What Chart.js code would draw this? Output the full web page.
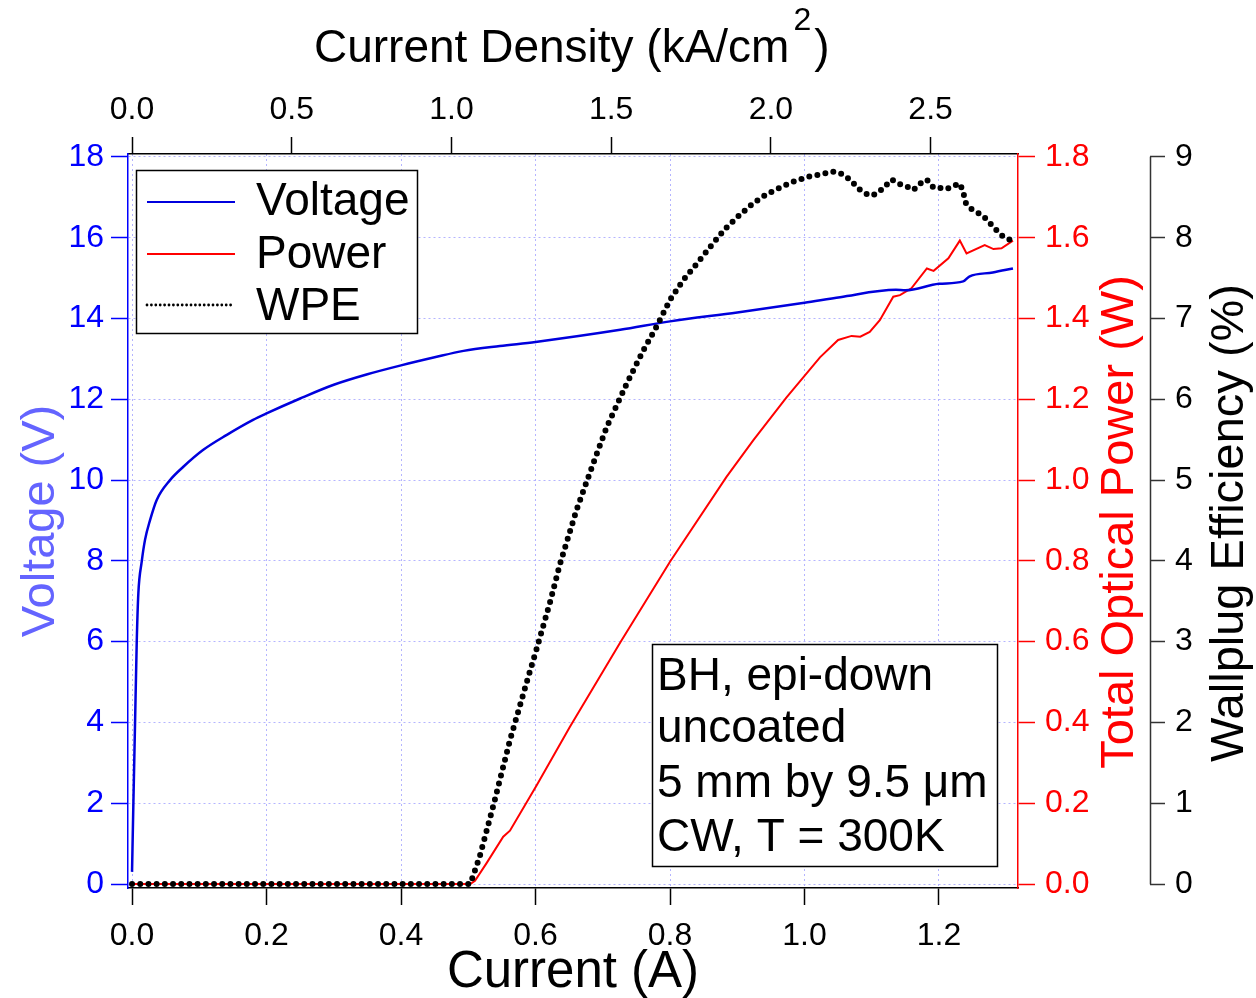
<!DOCTYPE html>
<html>
<head>
<meta charset="utf-8">
<script src="https://cdn.jsdelivr.net/npm/chart.js@4.4.1/dist/chart.umd.min.js"></script>
<style>
  html, body { margin: 0; padding: 0; background: #fff; }
  canvas { display: block; }
</style>
</head>
<body>
<canvas id="liv" width="1256" height="998"></canvas>
<script>
// valores (corrente em A)
const currentV = [0, 0.002, 0.0045, 0.007, 0.0094, 0.0144, 0.0193, 0.0268, 0.0367, 0.0565, 0.0763, 0.106, 0.141, 0.18, 0.2, 0.25, 0.3, 0.35, 0.4, 0.45, 0.493, 0.547, 0.6, 0.726, 0.8, 0.9, 1.0, 1.053, 1.136, 1.15, 1.2, 1.236, 1.245, 1.28, 1.31];
const voltage  = [0.3, 2.0, 4.0, 6.0, 7.2, 7.98, 8.52, 9.01, 9.51, 10.0, 10.33, 10.75, 11.12, 11.49, 11.65, 12.02, 12.36, 12.62, 12.84, 13.04, 13.2, 13.32, 13.42, 13.72, 13.93, 14.15, 14.39, 14.53, 14.71, 14.7, 14.86, 14.92, 15.04, 15.14, 15.24];

const currentP = [0, 0.503, 0.51, 0.527, 0.552, 0.562, 0.602, 0.651, 0.726, 0.8, 0.884, 0.924, 0.973, 1.023, 1.05, 1.07, 1.083, 1.097, 1.112, 1.132, 1.142, 1.159, 1.182, 1.192, 1.214, 1.231, 1.241, 1.268, 1.281, 1.293, 1.31];
const power    = [0, 0, 0.008, 0.051, 0.117, 0.132, 0.245, 0.389, 0.598, 0.798, 1.008, 1.099, 1.204, 1.304, 1.347, 1.357, 1.355, 1.367, 1.396, 1.454, 1.458, 1.475, 1.524, 1.518, 1.549, 1.593, 1.561, 1.582, 1.572, 1.574, 1.593];

const currentW = [0, 0.503, 0.517, 0.537, 0.562, 0.587, 0.602, 0.622, 0.636, 0.661, 0.686, 0.706, 0.736, 0.76, 0.78, 0.8, 0.82, 0.84, 0.864, 0.882, 0.902, 0.924, 0.944, 0.966, 0.988, 1.008, 1.028, 1.04, 1.05, 1.06, 1.07, 1.08, 1.09, 1.1, 1.11, 1.12, 1.13, 1.14, 1.151, 1.162, 1.172, 1.182, 1.192, 1.2, 1.211, 1.221, 1.231, 1.235, 1.238, 1.24, 1.249, 1.258, 1.268, 1.277, 1.286, 1.296, 1.307, 1.313];
const wpe      = [0, 0, 0.34, 0.96, 1.78, 2.5, 2.92, 3.5, 3.95, 4.63, 5.21, 5.66, 6.2, 6.6, 6.9, 7.23, 7.48, 7.68, 7.93, 8.11, 8.27, 8.43, 8.54, 8.63, 8.71, 8.76, 8.79, 8.82, 8.81, 8.77, 8.7, 8.61, 8.55, 8.52, 8.56, 8.64, 8.72, 8.67, 8.64, 8.59, 8.67, 8.72, 8.62, 8.62, 8.6, 8.64, 8.67, 8.59, 8.5, 8.43, 8.35, 8.31, 8.25, 8.17, 8.09, 8.01, 7.97, 7.97];

const currentTicks = [0, 0.2, 0.4, 0.6, 0.8, 1.0, 1.2];
const densityTicks = [0, 0.5, 1.0, 1.5, 2.0, 2.5];
const voltTicks    = [0, 2, 4, 6, 8, 10, 12, 14, 16, 18];
const powerTicks   = [0, 0.2, 0.4, 0.6, 0.8, 1.0, 1.2, 1.4, 1.6, 1.8];
const wpeTicks     = [0, 1, 2, 3, 4, 5, 6, 7, 8, 9];

const legendLabels = ['Voltage', 'Power', 'WPE'];
const infoLines = ['BH, epi-down', 'uncoated', '5 mm by 9.5 \u03bcm', 'CW, T = 300K'];

// 5 mm x 9.5 um -> kA/cm2 por A
const J_PER_A = 1 / (0.5 * 9.5e-4) / 1000;
const X_MIN = -0.006, X_MAX = 1.3175;

const FONT = "'Liberation Sans', Arial, sans-serif";
const BLUE = '#0000dd';
const GRID = '#b4b4ff';

Chart.defaults.font.family = FONT;

const pts = (xs, ys) => xs.map((x, i) => ({ x, y: ys[i] }));
const fixTicks = arr => s => { s.ticks = arr.map(v => ({ value: v })); };

const decor = {
  id: 'decor',
  afterDatasetsDraw(chart) {
    const ctx = chart.ctx;
    ctx.save();
    // legenda
    ctx.fillStyle = '#fff';
    ctx.fillRect(136, 170, 281, 163);
    ctx.strokeStyle = '#000';
    ctx.lineWidth = 1.5;
    ctx.strokeRect(136.5, 170.5, 281, 163);
    const ly = [202, 254, 305];
    const lc = [BLUE, '#ff0000', '#000'];
    ly.forEach((y, i) => {
      ctx.beginPath();
      ctx.strokeStyle = lc[i];
      if (i === 2) { ctx.lineWidth = 2.8; ctx.lineCap = 'round'; ctx.setLineDash([0, 4.4]); }
      else { ctx.lineWidth = 1.8; ctx.lineCap = 'butt'; ctx.setLineDash([]); }
      ctx.moveTo(147, y); ctx.lineTo(235, y); ctx.stroke();
    });
    ctx.setLineDash([]);
    ctx.fillStyle = '#000';
    ctx.font = '46px ' + FONT;
    ctx.textAlign = 'left';
    ctx.textBaseline = 'alphabetic';
    [215, 268, 320].forEach((b, i) => ctx.fillText(legendLabels[i], 256, b));

    // caixa de informações
    ctx.fillStyle = '#fff';
    ctx.fillRect(652, 644, 345, 222);
    ctx.strokeStyle = '#000';
    ctx.lineWidth = 1.5;
    ctx.strokeRect(652.5, 644.5, 345, 222);
    ctx.fillStyle = '#000';
    ctx.font = '46px ' + FONT;
    [690, 742, 797, 851].forEach((b, i) => ctx.fillText(infoLines[i], 657, b));

    // eixo WPE (0 a 9)
    const yW = chart.scales.yW;
    ctx.strokeStyle = '#333';
    ctx.lineWidth = 1.5;
    ctx.beginPath();
    ctx.moveTo(yW.left + 0.5, yW.getPixelForValue(0));
    ctx.lineTo(yW.left + 0.5, yW.getPixelForValue(9));
    ctx.stroke();
    ctx.restore();
  },
  afterDraw(chart) {
    const ctx = chart.ctx;
    ctx.save();
    ctx.textBaseline = 'alphabetic';
    // título inferior
    ctx.fillStyle = '#000';
    ctx.font = '51px ' + FONT;
    ctx.textAlign = 'center';
    ctx.fillText('Current (A)', 573, 987);
    // título superior com expoente
    ctx.textAlign = 'left';
    ctx.font = '46px ' + FONT;
    const main = 'Current Density (kA/cm';
    ctx.fillText(main, 314, 62);
    let x = 314 + ctx.measureText(main).width + 4;
    ctx.font = '32px ' + FONT;
    ctx.fillText('2', x, 30);
    x += ctx.measureText('2').width + 3;
    ctx.font = '46px ' + FONT;
    ctx.fillText(')', x, 62);
    // títulos verticais
    const vtitle = (text, bx, cy, color) => {
      ctx.save();
      ctx.translate(bx, cy);
      ctx.rotate(-Math.PI / 2);
      ctx.textAlign = 'center';
      ctx.fillStyle = color;
      ctx.font = '47px ' + FONT;
      ctx.fillText(text, 0, 0);
      ctx.restore();
    };
    vtitle('Voltage (V)', 54, 521, '#6464ff');
    vtitle('Total Optical Power (W)', 1133, 522, '#ff0000');
    vtitle('Wallplug Efficiency (%)', 1243, 523, '#000');
    ctx.restore();
  }
};

new Chart(document.getElementById('liv'), {
  type: 'line',
  data: {
    datasets: [
      { label: 'WPE', data: pts(currentW, wpe), yAxisID: 'yW', borderColor: '#000', borderWidth: 6,
        borderDash: [0, 8.2], borderCapStyle: 'round', pointRadius: 0, order: 1 },
      { label: 'Voltage', data: pts(currentV, voltage), yAxisID: 'yV', borderColor: BLUE, borderWidth: 2.5,
        cubicInterpolationMode: 'monotone', pointRadius: 0, order: 2 },
      { label: 'Power', data: pts(currentP, power), yAxisID: 'yP', borderColor: '#ff0000', borderWidth: 2,
        pointRadius: 0, order: 3 }
    ]
  },
  options: {
    responsive: false,
    animation: false,
    events: [],
    layout: { padding: 0 },
    plugins: { legend: { display: false }, tooltip: { enabled: false } },
    elements: { line: { tension: 0 } },
    scales: {
      x: {
        type: 'linear', position: 'bottom', min: X_MIN, max: X_MAX,
        afterFit: s => { s.height = 110; },
        afterBuildTicks: fixTicks(currentTicks),
        ticks: { color: '#000', font: { size: 32 }, padding: 12, maxRotation: 0, autoSkip: false,
          callback: v => v.toFixed(1) },
        grid: { color: GRID, lineWidth: 1, tickColor: '#000', tickLength: 17, tickWidth: 1.5 },
        border: { color: '#000', width: 1.5, dash: [2, 3] }
      },
      x2: {
        type: 'linear', position: 'top', min: X_MIN * J_PER_A, max: X_MAX * J_PER_A,
        afterFit: s => { s.height = 154; },
        afterBuildTicks: fixTicks(densityTicks),
        ticks: { color: '#000', font: { size: 32 }, padding: 8, maxRotation: 0, autoSkip: false,
          callback: v => v.toFixed(1) },
        grid: { drawOnChartArea: false, tickColor: '#000', tickLength: 17, tickWidth: 1.5 },
        border: { color: '#000', width: 1.5 }
      },
      yV: {
        type: 'linear', position: 'left', min: -0.099, max: 18.074,
        afterFit: s => { s.width = 128; },
        afterBuildTicks: fixTicks(voltTicks),
        ticks: { color: '#0000ff', font: { size: 32 }, padding: 7, autoSkip: false, callback: v => String(v) },
        grid: { color: GRID, lineWidth: 1, tickColor: '#0000ff', tickLength: 17, tickWidth: 1.5 },
        border: { color: '#0000ff', width: 1.5, dash: [2, 3] }
      },
      yP: {
        type: 'linear', position: 'right', weight: 1, min: -0.0099, max: 1.8074,
        afterFit: s => { s.width = 132; },
        afterBuildTicks: fixTicks(powerTicks),
        ticks: { color: '#ff0000', font: { size: 32 }, padding: 10, autoSkip: false, callback: v => v.toFixed(1) },
        grid: { drawOnChartArea: false, tickColor: '#ff0000', tickLength: 17, tickWidth: 1.5 },
        border: { color: '#ff0000', width: 1.5 }
      },
      yW: {
        type: 'linear', position: 'right', weight: 2, min: -0.0495, max: 9.037,
        afterFit: s => { s.width = 106; },
        afterBuildTicks: fixTicks(wpeTicks),
        ticks: { color: '#000', font: { size: 32 }, padding: 10, autoSkip: false, callback: v => String(v) },
        grid: { drawOnChartArea: false, tickColor: '#333', tickLength: 15, tickWidth: 1.5 },
        border: { display: false }
      }
    }
  },
  plugins: [decor]
});
</script>
</body>
</html>
